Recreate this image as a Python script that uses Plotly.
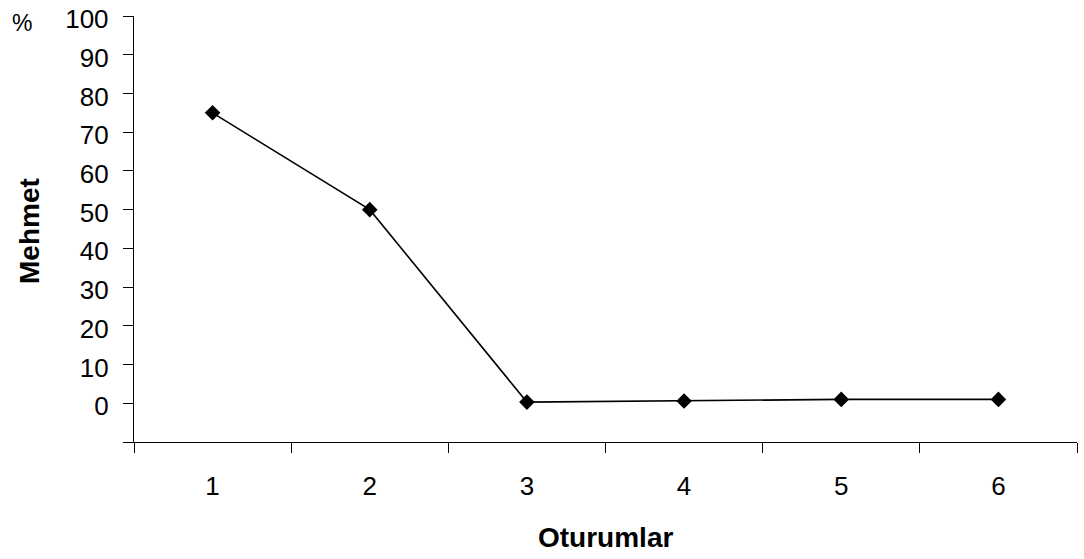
import plotly.graph_objects as go

sessions = ["1", "2", "3", "4", "5", "6"]
values = [75, 50, 0.3, 0.6, 1, 1]
y_ticks = [-10, 0, 10, 20, 30, 40, 50, 60, 70, 80, 90, 100]
y_ticktext = ["", "0", "10", "20", "30", "40", "50", "60", "70", "80", "90", "100"]

FONT = "Liberation Sans, Arial, sans-serif"

fig = go.Figure()
fig.add_trace(go.Scatter(
    x=sessions, y=values, mode="lines+markers",
    line=dict(color="black", width=1.6),
    marker=dict(symbol="diamond", size=12, color="black"),
    showlegend=False, cliponaxis=False,
))

fig.update_layout(
    width=1084, height=559,
    margin=dict(l=134, r=7, t=16, b=117),
    paper_bgcolor="white", plot_bgcolor="white",
    font=dict(family=FONT, size=26, color="black"),
    xaxis=dict(
        type="category", tickson="boundaries", ticks="outside", ticklen=10,
        tickcolor="black", tickwidth=1.4, showline=True, linecolor="black", linewidth=1.4,
        showgrid=False, zeroline=False, range=[-0.5, 5.5], automargin=False,
        tickfont=dict(size=26), ticklabelstandoff=21, ticklabeloverflow="allow",
    ),
    yaxis=dict(
        range=[-10, 100], tickvals=y_ticks, ticktext=y_ticktext,
        ticks="outside", ticklen=10, tickcolor="black", tickwidth=1.4,
        showline=True, linecolor="black", linewidth=1.4, automargin=False,
        showgrid=False, zeroline=False, tickfont=dict(size=26), ticklabelstandoff=9,
        ticklabeloverflow="allow", ticklabelshift=3,
    ),
    annotations=[
        dict(text="<b>Oturumlar</b>", xref="paper", yref="paper",
             x=0.5, y=0, xanchor="center", yanchor="middle", yshift=-95,
             showarrow=False, font=dict(size=28, family=FONT)),
        dict(text="<b>Mehmet</b>", textangle=-90, xref="paper", yref="paper",
             x=0, y=0.5, xanchor="center", yanchor="middle", xshift=-105, yshift=-2,
             showarrow=False, font=dict(size=28, family=FONT)),
        dict(text="%", xref="paper", yref="paper", x=0, y=1,
             xanchor="center", yanchor="middle", xshift=-112, yshift=-7,
             showarrow=False, font=dict(size=23, family=FONT)),
    ],
)

fig.write_html(
    "out.html",
    config={"displayModeBar": False},
    post_script="document.body.style.margin='0';document.body.style.overflow='hidden';",
)
